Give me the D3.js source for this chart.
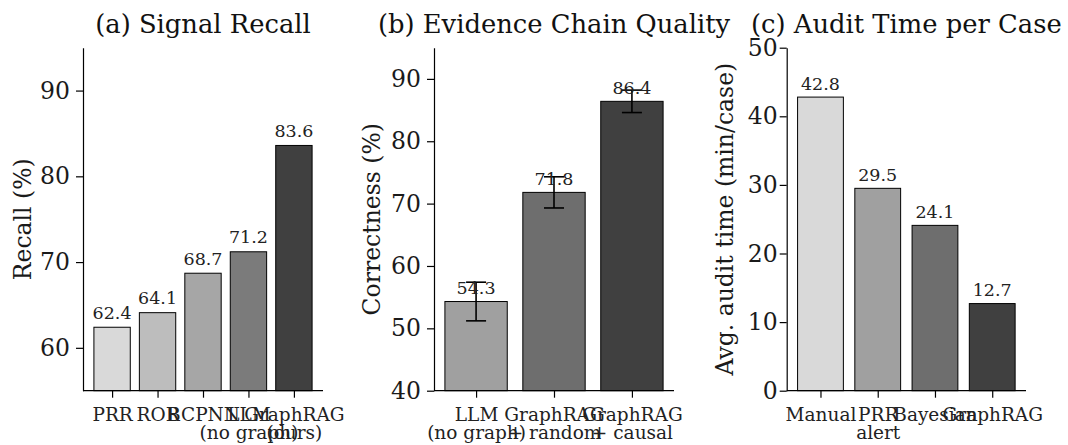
<!DOCTYPE html>
<html>
<head>
<meta charset="utf-8">
<script src="https://cdn.jsdelivr.net/npm/d3@7"></script>
<style>
  body { margin: 0; background: #fff; }
  svg { font-family: "DejaVu Serif", serif; }
  .axis path, .axis line { stroke: #000; stroke-width: 1.2; }
</style>
</head>
<body>
<svg width="1068" height="445"></svg>
<script>
// (a) signal recall
var recallLabels = ["PRR", "ROR", "BCPNN", "LLM\n(no graph)", "GraphRAG\n(ours)"];
var recallValues = [62.4, 64.1, 68.7, 71.2, 83.6];
var recallTicks = [60, 70, 80, 90];

// (b) evidence chain quality
var chainLabels = ["LLM\n(no graph)", "GraphRAG\n+ random", "GraphRAG\n+ causal"];
var chainValues = [54.3, 71.8, 86.4];
var chainErrors = [3.1, 2.5, 1.8];
var chainTicks = [40, 50, 60, 70, 80, 90];

// (c) audit time
var timeLabels = ["Manual", "PRR\nalert", "Bayesian", "GraphRAG"];
var timeValues = [42.8, 29.5, 24.1, 12.7];
var timeTicks = [0, 10, 20, 30, 40, 50];

var svg = d3.select("svg"),
    top_ = 47.7, bottom = 390.7;

function panel(opt) {
  var n = opt.labels.length,
      m = 0.05 * (n - 0.2),
      x = d3.scaleLinear().domain([-0.4 - m, n - 0.6 + m]).range([opt.left, opt.right]),
      y = d3.scaleLinear().domain(opt.domain).range([bottom, top_]);

  var g = svg.append("g");

  g.selectAll(".bar").data(opt.values)
    .enter().append("rect")
    .attr("class", "bar")
    .attr("x", function(d, i) { return x(i - 0.4); })
    .attr("width", function(d, i) { return x(i + 0.4) - x(i - 0.4); })
    .attr("y", function(d) { return y(d); })
    .attr("height", function(d) { return bottom - y(d); })
    .attr("fill", function(d, i) { return opt.colors[i]; })
    .attr("stroke", "#000")
    .attr("stroke-width", 1);

  if (opt.errors) {
    var eg = g.selectAll(".err").data(opt.values)
      .enter().append("g").attr("class", "err")
      .attr("stroke", "#000").attr("stroke-width", 1.6);
    eg.append("line")
      .attr("x1", function(d, i) { return x(i); })
      .attr("x2", function(d, i) { return x(i); })
      .attr("y1", function(d, i) { return y(d - opt.errors[i]); })
      .attr("y2", function(d, i) { return y(d + opt.errors[i]); });
    [-1, 1].forEach(function(s) {
      eg.append("line")
        .attr("x1", function(d, i) { return x(i) - 10; })
        .attr("x2", function(d, i) { return x(i) + 10; })
        .attr("y1", function(d, i) { return y(d + s * opt.errors[i]); })
        .attr("y2", function(d, i) { return y(d + s * opt.errors[i]); });
    });
  }

  g.selectAll(".val").data(opt.values)
    .enter().append("text")
    .attr("class", "val")
    .attr("x", function(d, i) { return x(i); })
    .attr("y", function(d) { return y(d + 0.5) - 4; })
    .attr("text-anchor", "middle")
    .attr("font-size", 17.5)
    .attr("fill", "#222")
    .text(function(d) { return d.toFixed(1); });

  var ya = g.append("g")
    .attr("class", "axis")
    .attr("transform", "translate(" + opt.left + ",0)")
    .call(d3.axisLeft(y).tickValues(opt.ticks).tickSize(7).tickPadding(opt.pad || 6).tickSizeOuter(0));
  ya.selectAll("text").attr("font-size", 23.5).attr("fill", "#1a1a1a").attr("font-family", "DejaVu Serif");

  var xa = g.append("g")
    .attr("class", "axis")
    .attr("transform", "translate(0," + bottom + ")")
    .call(d3.axisBottom(x).tickValues(d3.range(n)).tickSize(7).tickSizeOuter(0).tickFormat(""));
  xa.select(".domain").attr("d", "M" + opt.left + ",0H" + opt.right);
  xa.selectAll(".tick").each(function(d) {
    var t = d3.select(this).append("text")
      .attr("fill", "#222")
      .attr("font-size", 18.5)
      .attr("font-family", "DejaVu Serif")
      .attr("text-anchor", "middle");
    opt.labels[d].split("\n").forEach(function(line, k) {
      t.append("tspan").attr("x", 0).attr("y", 30.3 + k * 18.5).text(line);
    });
  });

  g.append("text")
    .attr("transform", "translate(" + opt.ylabelX + "," + (top_ + bottom) / 2 + ") rotate(-90)")
    .attr("text-anchor", "middle")
    .attr("font-size", 23.5)
    .attr("fill", "#1a1a1a")
    .text(opt.ylabel);

  g.append("text")
    .attr("x", (opt.left + opt.right) / 2)
    .attr("y", 33)
    .attr("text-anchor", "middle")
    .attr("font-size", 25.8)
    .attr("fill", "#111")
    .text(opt.title);
}

panel({
  title: "(a) Signal Recall", ylabel: "Recall (%)",
  labels: recallLabels, values: recallValues, ticks: recallTicks,
  domain: [55, 95], left: 83, right: 323, ylabelX: 31,
  colors: ["#d9d9d9", "#bdbdbd", "#a6a6a6", "#7b7b7b", "#404040"]
});

panel({
  title: "(b) Evidence Chain Quality", ylabel: "Correctness (%)",
  labels: chainLabels, values: chainValues, errors: chainErrors, ticks: chainTicks,
  domain: [40, 95], left: 434, right: 674, ylabelX: 380,
  colors: ["#a0a0a0", "#6e6e6e", "#404040"]
});

panel({
  title: "(c) Audit Time per Case", ylabel: "Avg. audit time (min/case)",
  labels: timeLabels, values: timeValues, ticks: timeTicks,
  domain: [0, 50], left: 786.7, right: 1026, ylabelX: 733, pad: 2,
  colors: ["#d9d9d9", "#a0a0a0", "#6e6e6e", "#404040"]
});
</script>
</body>
</html>
